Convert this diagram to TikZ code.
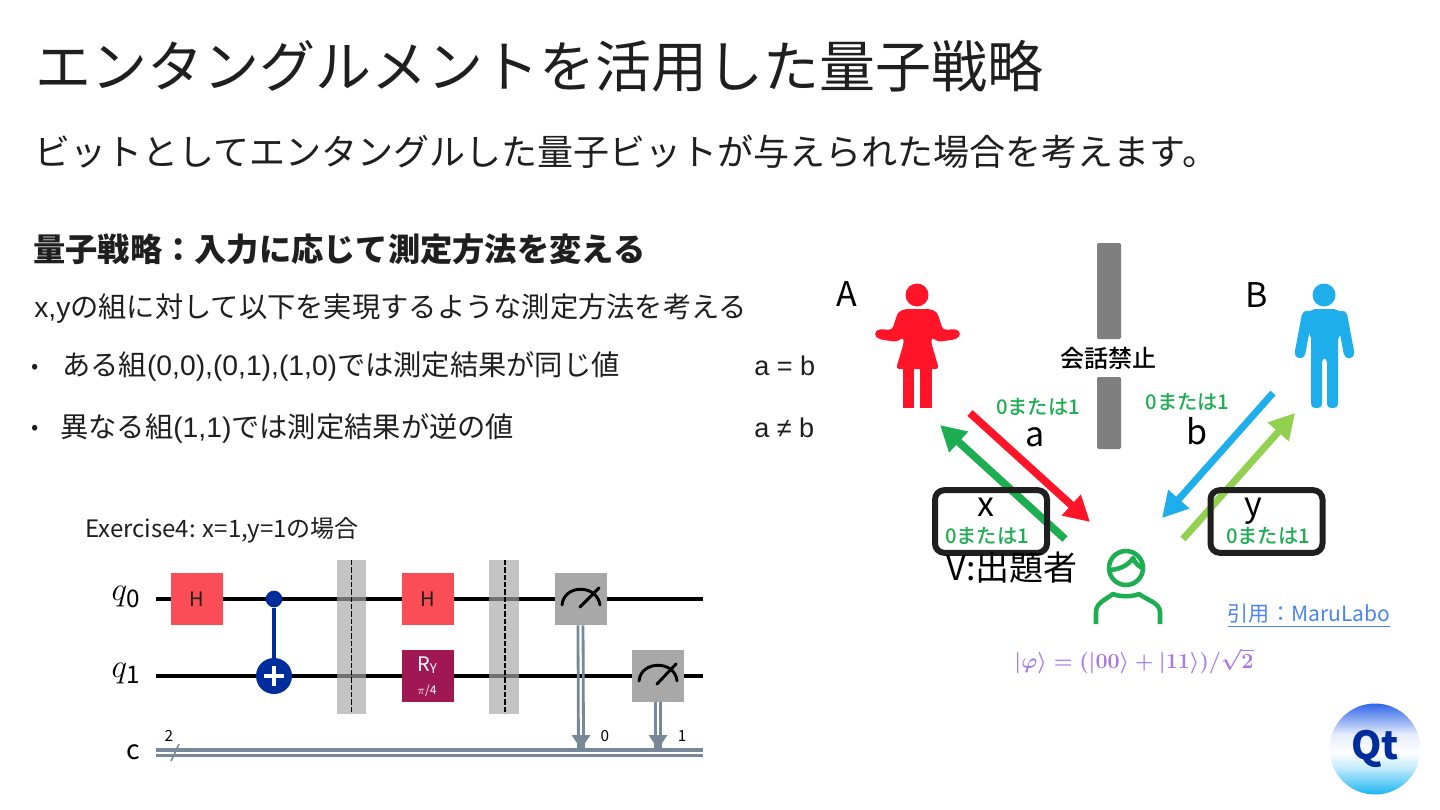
\documentclass[tikz,border=0pt]{standalone}
\usepackage{amsmath}
\usepackage{fontspec}
\setmainfont{Noto Sans CJK JP}
\newfontfamily\latinfont{Liberation Sans}
\newfontfamily\medfont{Noto Sans CJK JP Medium}
\usetikzlibrary{arrows.meta}
\newcommand{\fsz}[1]{\fontsize{#1}{#1}\selectfont}
\definecolor{titleblack}{HTML}{1F1F1F}
\definecolor{sayred}{HTML}{FF1428}
\definecolor{saygreen}{HTML}{1DAE52}
\definecolor{sayblue}{HTML}{1FAEEC}
\definecolor{saylime}{HTML}{92D050}
\definecolor{wallgray}{HTML}{7F7F7F}
\definecolor{linkblue}{HTML}{4A86F0}
\definecolor{statepurple}{HTML}{A878E8}
\definecolor{gatered}{HTML}{FA4D56}
\definecolor{gateplum}{HTML}{9F1853}
\definecolor{gategray}{HTML}{A8A8A8}
\definecolor{cnotblue}{HTML}{002D9C}
\definecolor{wiregray}{HTML}{778899}
\definecolor{logotop}{HTML}{2F66E8}
\definecolor{logocyan}{HTML}{1CB4F2}
\pgfdeclareverticalshading{qtlogo}{100bp}{color(0bp)=(logocyan); color(25bp)=(logocyan); color(40bp)=(logocyan!25); color(48bp)=(white); color(58bp)=(logotop!12); color(75bp)=(logotop); color(100bp)=(logotop)}
\tikzset{
  bodytext/.style={anchor=base west,inner sep=0pt,text=titleblack,font=\fsz{21.2}},
  dotmark/.style={anchor=base west,inner sep=0pt,text=titleblack,font=\fsz{16}},
  greenlabel/.style={inner sep=0pt,text=saygreen,font=\medfont\fsz{15.2}},
  biglabel/.style={inner sep=0pt,text=black,font=\fsz{25.5}},
  sayarrow/.style={line width=5.8pt,-{Triangle[length=19pt,width=20pt]}},
  rulebox/.style={draw=titleblack,line width=4.5pt,rounded corners=7pt},
  gatebox/.style={inner sep=0pt,minimum width=39pt,minimum height=39pt,text=titleblack},
  wire/.style={line width=2.6pt,black},
  creg/.style={line width=2.8pt,wiregray},
  shield/.style={fill=gategray,opacity=0.67},
  dial/.style={line width=2.2pt,black,line cap=round}
}
\begin{document}
\begin{tikzpicture}[x=0.75pt,y=-0.75pt]
  \useasboundingbox (0,0) rectangle (1440,810);
  \fill[white] (0,0) rectangle (1440,810);

  \node[anchor=base west,inner sep=0pt,text=titleblack,font=\fsz{42}] (title) at (35.5,87) {エンタングルメントを活用した量子戦略};
  \node[anchor=base west,inner sep=0pt,text=titleblack,font=\fsz{27}] (subtitle) at (34.5,165) {ビットとしてエンタングルした量子ビットが与えられた場合を考えます。};
  \node[anchor=base west,inner sep=0pt,text=titleblack,font=\fsz{24.2}\bfseries] (heading) at (33,261) {量子戦略：入力に応じて測定方法を変える};
  \node[bodytext] (lead) at (34,317) {{\latinfont x,y}の組に対して以下を実現するような測定方法を考える};
  \node[dotmark] (dotone) at (31,373) {•};
  \node[bodytext] (itemone) at (62,375) {ある組{\latinfont (0,0),(0,1),(1,0)}では測定結果が同じ値};
  \node[bodytext,font=\latinfont\fsz{20.3}] (eqone) at (754,375) {a = b};
  \node[dotmark] (dottwo) at (31,434) {•};
  \node[bodytext] (itemtwo) at (60,437) {異なる組{\latinfont (1,1)}では測定結果が逆の値};
  \node[bodytext,font=\latinfont\fsz{20.3}] (eqtwo) at (754,437) {a ≠ b};

  \node[bodytext,font=\fsz{18}] (exercise) at (85,537) {Exercise4: x=1,y=1の場合};

  \coordinate (qzeroin) at (156,599);
  \coordinate (qzeroout) at (703,599);
  \coordinate (qonein) at (156,676);
  \coordinate (qoneout) at (703,676);
  \coordinate (cupin) at (156,750);
  \coordinate (cupout) at (703,750);
  \coordinate (cdownin) at (156,755.5);
  \coordinate (cdownout) at (703,755.5);
  \draw[wire] (qzeroin) -- (qzeroout);
  \draw[wire] (qonein) -- (qoneout);
  \draw[creg] (cupin) -- (cupout);
  \draw[creg] (cdownin) -- (cdownout);
  \node[inner sep=0pt,font=\fsz{26}] (qzero) at (126,597) {$q_{\mathrm{0}}$};
  \node[inner sep=0pt,font=\fsz{26}] (qone) at (126,674) {$q_{\mathrm{1}}$};
  \node[inner sep=0pt,font=\fsz{20}] (creglabel) at (133,752) {c};
  \node[inner sep=0pt,font=\fsz{11.5}] (cwidth) at (169,736) {2};
  \coordinate (slashlow) at (171,761);
  \coordinate (slashhigh) at (179,744);
  \draw[line width=1.2pt,wiregray] (slashlow) -- (slashhigh);

  \node[gatebox,fill=gatered,font=\fsz{15}] (hzero) at (197,599) {H};
  \node[circle,inner sep=0pt,minimum size=12.5pt,fill=cnotblue] (ctrl) at (274,599) {};
  \node[circle,inner sep=0pt,minimum size=27pt,fill=cnotblue] (targ) at (274,676) {};
  \draw[line width=3pt,cnotblue] (ctrl) -- (targ);
  \draw[line width=3.2pt,white] (targ.center) ++(-10,0) -- ++(20,0);
  \draw[line width=3.2pt,white] (targ.center) ++(0,-10) -- ++(0,20);

  \fill[shield] (337,560) rectangle (366,714);
  \draw[line width=1pt,black,dash pattern=on 4pt off 1.5pt] (351.5,560) -- (351.5,714);
  \node[gatebox,fill=gatered,font=\fsz{15}] (hone) at (427.5,599) {H};
  \node[gatebox,fill=gateplum] (ry) at (427.5,675.5) {};
  \node[inner sep=0pt,text=white,font=\fsz{15}] (rylabel) at (427,665) {R\raisebox{-2pt}{\fsz{10}Y}};
  \node[inner sep=0pt,text=white,font=\fsz{9}\itshape] (rypar) at (427,691) {$\pi$/4};
  \fill[shield] (489,560) rectangle (519,714);
  \draw[line width=1.2pt,black,dash pattern=on 4pt off 1.5pt] (505,560) -- (505,714);

  \node[gatebox,fill=gategray] (mzero) at (580.5,599) {};
  \node[gatebox,fill=gategray] (mone) at (658,675.5) {};
  \draw[dial] (562,605) .. controls (564,584) and (597,584) .. (600,605);
  \draw[dial] (580,607) -- (599,588);
  \draw[dial] (639,681) .. controls (641,660) and (675,660) .. (677,681);
  \draw[dial] (657,684) -- (676,664);
  \coordinate (tickzero) at (581,749);
  \coordinate (tickone) at (658,749);
  \draw[line width=2.1pt,wiregray] ([xshift=-1.9pt]mzero.south) -- ([xshift=-1.9pt]tickzero);
  \draw[line width=2.1pt,wiregray] ([xshift=1.9pt]mzero.south) -- ([xshift=1.9pt]tickzero);
  \draw[line width=2.1pt,wiregray] ([xshift=-1.9pt]mone.south) -- ([xshift=-1.9pt]tickone);
  \draw[line width=2.1pt,wiregray] ([xshift=1.9pt]mone.south) -- ([xshift=1.9pt]tickone);
  \fill[wiregray] (tickzero) -- ++(-9.5,-14) -- ++(19,0) -- cycle;
  \fill[wiregray] (tickone) -- ++(-9.5,-14) -- ++(19,0) -- cycle;
  \node[inner sep=0pt,font=\fsz{11.5}] (bitzero) at (605,736) {0};
  \node[inner sep=0pt,font=\fsz{11.5}] (bitone) at (682,736) {1};

  \fill[wallgray,rounded corners=1pt] (1097,243) rectangle (1121,339);
  \fill[wallgray,rounded corners=1pt] (1097,377) rectangle (1121,449);
  \node[inner sep=0pt,text=black,font=\medfont\fsz{18}] (wall) at (1108,358) {会話禁止};

  \node[biglabel] (alice) at (847,294) {A};
  \fill[sayred] (917,295) circle (11.5);
  \fill[sayred,rounded corners=2.5pt] (905,309) -- (898,312) -- (892,330) -- (878,329) -- (874,334) -- (878,339) -- (897,342) -- (903,337) -- (904,342) -- (896,369) -- (939,369) -- (931,342) -- (932,337) -- (938,342) -- (957,339) -- (961,334) -- (957,329) -- (943,330) -- (937,312) -- (930,309) -- cycle;
  \fill[sayred] (903,368) rectangle (914,408);
  \fill[sayred] (920,368) rectangle (932,408);

  \node[biglabel] (bob) at (1257,295) {B};
  \fill[sayblue] (1324,295) circle (11.5);
  \fill[sayblue,rounded corners=3pt] (1311,309) -- (1338,309) -- (1338,408) -- (1327,408) -- (1327,358) -- (1322,358) -- (1322,408) -- (1311,408) -- cycle;
  \fill[sayblue,rounded corners=4pt] (1307,310) -- (1342,310) -- (1340,340) -- (1310,340) -- cycle;
  \draw[sayblue,line width=8pt,line cap=round,line join=round] (1307,316) -- (1300,353);
  \draw[sayblue,line width=8pt,line cap=round,line join=round] (1342,316) -- (1349,353);

  \coordinate (saya) at (970,413);
  \coordinate (geta) at (1090,522);
  \coordinate (sayb) at (1273,393);
  \coordinate (getb) at (1162,518);
  \coordinate (sendx) at (1065,539);
  \coordinate (hearx) at (940,425);
  \coordinate (sendy) at (1183,539);
  \coordinate (heary) at (1295,413);
  \draw[sayarrow,sayred] (saya) -- (geta);
  \draw[sayarrow,saygreen] (sendx) -- (hearx);
  \draw[sayarrow,sayblue,line width=5.2pt] (sayb) -- (getb);
  \draw[sayarrow,saylime,line width=5.2pt] (sendy) -- (heary);

  \node[rulebox,minimum width=84pt,minimum height=47pt] (xbox) at (991,521.5) {};
  \node[rulebox,minimum width=84pt,minimum height=47pt] (ybox) at (1266.5,521.5) {};

  \node[greenlabel] (saidone) at (1038,407) {0または1};
  \node[biglabel] (letterone) at (1035,437) {a};
  \node[greenlabel] (saidtwo) at (1187.5,402) {0または1};
  \node[biglabel] (lettertwo) at (1197,431) {b};
  \node[biglabel] (letterx) at (986,507) {x};
  \node[greenlabel] (xbits) at (987,536) {0または1};
  \node[biglabel] (lettery) at (1253,511) {y};
  \node[greenlabel] (ybits) at (1268,536) {0または1};

  \node[biglabel] (asker) at (1012,568) {V:出題者};
  \draw[saygreen,line width=3.4pt] (1126,568) circle (17);
  \draw[saygreen,line width=3.4pt,line join=round] (1108,570) .. controls (1118,570) and (1128,566) .. (1133,558) .. controls (1135,563) and (1139,567) .. (1143,568);
  \draw[saygreen,line width=3.4pt,line join=round] (1096,624) -- (1096,612) .. controls (1096,603) and (1105,600) .. (1113,594) .. controls (1120,597) and (1132,597) .. (1139,594) .. controls (1147,600) and (1160,603) .. (1160,612) -- (1160,624);

  \node[inner sep=0pt,text=linkblue,font=\fsz{15.8}] (source) at (1309,616) {\underline{引用：MaruLabo}};
  \node[inner sep=0pt,scale=0.93,text=statepurple,font=\fsz{17.4}\boldmath] (state) at (1134,661) {$|\varphi\rangle=(|00\rangle+|11\rangle)/\sqrt{2}$};

  \shade[shading=qtlogo] (1375,749) circle (45.5);
  \node[inner sep=0pt,text=cnotblue,font=\fsz{29}\bfseries] (logo) at (1375,749) {Qt};
\end{tikzpicture}
\end{document}
